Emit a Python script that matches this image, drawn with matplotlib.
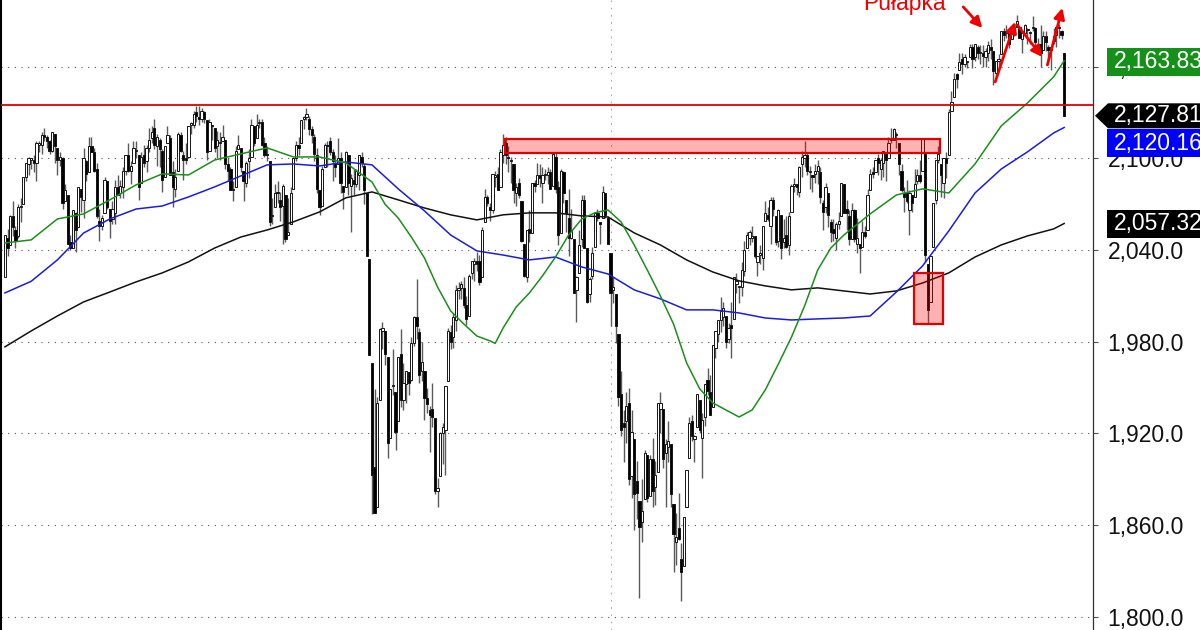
import matplotlib
matplotlib.use("Agg")
import matplotlib.pyplot as plt
from matplotlib.patches import Rectangle, Polygon
from matplotlib.transforms import IdentityTransform

plt.rcParams['font.family'] = ['Liberation Sans', 'DejaVu Sans']

# daily bars, 3 Feb 2015 .. 9 Sep 2016 (one row per month)
OPEN = [
    2022, 2048, 2043, 2062, 2053, 2049, 2068, 2070, 2088, 2096, 2099, 2099, 2097, 2109, 2109, 2115, 2114, 2111,
    2105, 2116, 2107, 2099, 2100, 2072, 2076, 2045, 2041, 2064, 2055, 2080, 2073, 2098, 2091, 2108, 2104, 2093, 2059, 2056, 2064, 2085,
    2067, 2060, 2064, 2081, 2077, 2081, 2092, 2102, 2092, 2097, 2105, 2102, 2084, 2102, 2098, 2107, 2113, 2120, 2108, 2112, 2105,
    2088, 2110, 2113, 2091, 2080, 2092, 2115, 2102, 2100, 2101, 2122, 2122, 2130, 2127, 2126, 2130, 2125, 2105, 2122, 2120,
    2108, 2110, 2111, 2112, 2096, 2093, 2079, 2081, 2106, 2107, 2092, 2084, 2098, 2101, 2121, 2113, 2123, 2124, 2110, 2103, 2098, 2062,
    2068, 2078, 2073, 2069, 2076, 2050, 2057, 2080, 2100, 2109, 2110, 2126, 2127, 2126, 2119, 2114, 2102, 2079, 2069, 2094, 2108, 2111,
    2104, 2097, 2096, 2100, 2082, 2081, 2102, 2082, 2086, 2083, 2089, 2101, 2095, 2077, 2034, 1966, 1898, 1872, 1942, 1987, 1987,
    1970, 1917, 1951, 1947, 1928, 1972, 1942, 1952, 1960, 1955, 1979, 1996, 1986, 1961, 1961, 1943, 1935, 1936, 1930, 1882, 1892,
    1920, 1922, 1954, 1986, 1983, 1994, 2014, 2015, 2015, 2004, 1997, 2025, 2031, 2033, 2033, 2022, 2058, 2075, 2068, 2066, 2088, 2090,
    2081, 2102, 2110, 2101, 2098, 2096, 2077, 2084, 2072, 2044, 2022, 2054, 2051, 2084, 2083, 2089, 2084, 2089, 2089, 2091,
    2082, 2101, 2081, 2051, 2091, 2073, 2061, 2048, 2047, 2014, 2025, 2047, 2073, 2041, 2011, 2023, 2042, 2064, 2058, 2061, 2077, 2061,
    2038, 2014, 2011, 1985, 1946, 1927, 1928, 1940, 1892, 1916, 1889, 1876, 1862, 1877, 1906, 1879, 1903, 1885, 1895,
    1936, 1936, 1907, 1911, 1913, 1874, 1849, 1858, 1838, 1833, 1872, 1904, 1928, 1916, 1924, 1942, 1917, 1931, 1955, 1947,
    1937, 1976, 1985, 1994, 1996, 1997, 1982, 1991, 1995, 2018, 2016, 2016, 2026, 2041, 2048, 2048, 2049, 2032, 2037, 2035, 2059, 2063,
    2056, 2073, 2062, 2046, 2063, 2045, 2050, 2043, 2065, 2082, 2083, 2078, 2096, 2100, 2102, 2091, 2089, 2090, 2092, 2091, 2071,
    2068, 2077, 2058, 2054, 2048, 2057, 2062, 2083, 2067, 2062, 2047, 2066, 2044, 2044, 2042, 2052, 2053, 2079, 2091, 2091, 2100,
    2093, 2097, 2103, 2100, 2112, 2112, 2115, 2110, 2092, 2077, 2077, 2066, 2076, 2075, 2085, 2089, 2092, 2103, 2031, 2006, 2042, 2073,
    2099, 2096, 2084, 2100, 2102, 2131, 2140, 2155, 2158, 2165, 2162, 2163, 2166, 2173, 2166, 2173, 2169, 2169, 2166, 2169,
    2173, 2170, 2156, 2164, 2168, 2183, 2182, 2183, 2178, 2184, 2186, 2186, 2178, 2182, 2184, 2182, 2185, 2185, 2174, 2175, 2171, 2180, 2173,
    2171, 2177, 2181, 2185, 2183, 2169,
]
HIGH = [
    2050, 2054, 2063, 2072, 2056, 2070, 2074, 2088, 2097, 2101, 2100, 2102, 2111, 2111, 2117, 2120, 2115, 2112,
    2117, 2116, 2107, 2104, 2101, 2083, 2076, 2050, 2066, 2065, 2081, 2080, 2107, 2099, 2114, 2114, 2107, 2097, 2067, 2063, 2088, 2085,
    2067, 2072, 2086, 2089, 2086, 2094, 2102, 2110, 2098, 2111, 2111, 2102, 2104, 2109, 2109, 2120, 2121, 2126, 2116, 2113, 2106,
    2108, 2121, 2115, 2098, 2093, 2117, 2117, 2105, 2110, 2121, 2124, 2131, 2134, 2134, 2133, 2131, 2125, 2126, 2122, 2120,
    2118, 2117, 2122, 2112, 2100, 2094, 2085, 2108, 2115, 2107, 2092, 2098, 2106, 2126, 2121, 2129, 2126, 2126, 2114, 2108, 2098, 2074,
    2083, 2085, 2078, 2083, 2076, 2074, 2081, 2100, 2111, 2114, 2124, 2128, 2133, 2128, 2121, 2116, 2107, 2079, 2095, 2110, 2111, 2114,
    2106, 2102, 2113, 2104, 2082, 2105, 2102, 2090, 2093, 2093, 2102, 2104, 2096, 2077, 2034, 1966, 1949, 1944, 1989, 1993, 1987,
    1970, 1949, 1975, 1947, 1970, 1988, 1966, 1961, 1960, 1983, 1997, 2021, 1989, 1980, 1961, 1950, 1938, 1953, 1930, 1891, 1921,
    1927, 1951, 1989, 1991, 1999, 2017, 2019, 2020, 2022, 2010, 2024, 2033, 2035, 2039, 2037, 2055, 2080, 2076, 2071, 2090, 2092, 2094,
    2106, 2116, 2114, 2108, 2101, 2096, 2084, 2087, 2072, 2044, 2053, 2066, 2084, 2086, 2097, 2096, 2094, 2093, 2094, 2093,
    2103, 2104, 2085, 2093, 2092, 2073, 2080, 2067, 2047, 2023, 2053, 2076, 2076, 2041, 2022, 2042, 2064, 2067, 2058, 2082, 2077, 2062,
    2038, 2022, 2011, 1985, 1961, 1935, 1947, 1950, 1935, 1916, 1902, 1876, 1890, 1909, 1906, 1906, 1917, 1902, 1940,
    1947, 1936, 1916, 1928, 1913, 1874, 1868, 1881, 1848, 1865, 1896, 1931, 1932, 1919, 1946, 1942, 1933, 1952, 1963, 1958,
    1978, 1987, 1994, 2009, 2006, 1997, 1992, 2006, 2022, 2025, 2016, 2032, 2046, 2052, 2053, 2056, 2049, 2036, 2043, 2056, 2072, 2068,
    2075, 2075, 2062, 2067, 2063, 2060, 2062, 2065, 2083, 2087, 2083, 2095, 2105, 2111, 2104, 2095, 2089, 2096, 2099, 2094, 2073,
    2084, 2077, 2060, 2060, 2058, 2065, 2084, 2083, 2073, 2066, 2071, 2067, 2061, 2044, 2059, 2056, 2080, 2093, 2094, 2099, 2103,
    2100, 2105, 2104, 2114, 2120, 2120, 2117, 2110, 2096, 2081, 2086, 2079, 2076, 2093, 2093, 2099, 2113, 2103, 2031, 2036, 2071, 2099,
    2108, 2096, 2100, 2104, 2132, 2144, 2156, 2156, 2169, 2169, 2168, 2164, 2175, 2175, 2175, 2174, 2174, 2174, 2172, 2177,
    2178, 2170, 2164, 2168, 2183, 2185, 2187, 2183, 2186, 2186, 2194, 2186, 2183, 2188, 2185, 2183, 2193, 2186, 2179, 2187, 2183, 2183, 2174,
    2173, 2185, 2186, 2188, 2184, 2169,
]
LOW = [
    2022, 2036, 2043, 2049, 2041, 2048, 2058, 2070, 2085, 2089, 2093, 2091, 2085, 2104, 2103, 2111, 2107, 2103,
    2104, 2097, 2089, 2095, 2067, 2072, 2044, 2040, 2041, 2039, 2055, 2065, 2061, 2085, 2091, 2104, 2091, 2061, 2046, 2053, 2064, 2067,
    2048, 2057, 2057, 2076, 2074, 2074, 2089, 2091, 2083, 2097, 2100, 2073, 2084, 2094, 2091, 2104, 2110, 2106, 2095, 2094, 2078,
    2088, 2110, 2089, 2068, 2075, 2092, 2104, 2086, 2096, 2101, 2116, 2120, 2124, 2122, 2124, 2123, 2099, 2105, 2112, 2104,
    2100, 2099, 2111, 2093, 2085, 2079, 2072, 2081, 2106, 2091, 2072, 2081, 2087, 2101, 2108, 2113, 2120, 2108, 2101, 2098, 2056, 2057,
    2068, 2071, 2059, 2044, 2045, 2050, 2057, 2080, 2098, 2102, 2110, 2119, 2125, 2115, 2110, 2098, 2077, 2063, 2069, 2094, 2094, 2102,
    2085, 2088, 2096, 2077, 2067, 2081, 2076, 2052, 2076, 2081, 2079, 2094, 2070, 2036, 1971, 1867, 1868, 1872, 1942, 1975, 1965,
    1904, 1917, 1945, 1909, 1928, 1937, 1935, 1940, 1945, 1954, 1977, 1982, 1953, 1954, 1929, 1933, 1908, 1924, 1880, 1872, 1892,
    1900, 1893, 1954, 1975, 1976, 1987, 2008, 2008, 2002, 1991, 1997, 2021, 2020, 2026, 2017, 2022, 2058, 2069, 2059, 2064, 2081, 2079,
    2081, 2097, 2096, 2091, 2084, 2071, 2069, 2074, 2045, 2022, 2019, 2045, 2051, 2078, 2083, 2081, 2071, 2086, 2083, 2080,
    2082, 2077, 2043, 2051, 2071, 2052, 2036, 2047, 2012, 1993, 2025, 2042, 2041, 2005, 2006, 2021, 2042, 2059, 2044, 2061, 2061, 2044,
    1990, 2005, 1979, 1938, 1918, 1901, 1914, 1886, 1878, 1857, 1864, 1812, 1849, 1877, 1875, 1879, 1872, 1873, 1895,
    1920, 1897, 1872, 1901, 1872, 1829, 1834, 1850, 1810, 1833, 1872, 1904, 1915, 1901, 1924, 1920, 1891, 1925, 1945, 1932,
    1937, 1969, 1980, 1986, 1990, 1976, 1979, 1969, 1995, 2012, 2005, 2010, 2023, 2041, 2043, 2045, 2035, 2023, 2031, 2027, 2059, 2059,
    2044, 2062, 2043, 2042, 2034, 2041, 2041, 2037, 2065, 2078, 2076, 2075, 2088, 2094, 2089, 2080, 2078, 2084, 2083, 2071, 2053,
    2064, 2055, 2045, 2046, 2040, 2054, 2062, 2064, 2053, 2043, 2047, 2045, 2038, 2025, 2042, 2048, 2053, 2079, 2087, 2091, 2089,
    2086, 2088, 2085, 2100, 2110, 2112, 2107, 2089, 2078, 2065, 2071, 2050, 2065, 2075, 2083, 2084, 2092, 2032, 1992, 2006, 2042, 2070,
    2097, 2075, 2074, 2087, 2102, 2131, 2140, 2146, 2158, 2155, 2160, 2159, 2166, 2159, 2164, 2165, 2162, 2160, 2160, 2164,
    2165, 2148, 2154, 2159, 2168, 2177, 2179, 2172, 2178, 2180, 2186, 2179, 2169, 2181, 2175, 2175, 2183, 2171, 2168, 2160, 2171, 2170, 2162,
    2158, 2175, 2173, 2179, 2178, 2127.81,
]
CLOSE = [
    2050, 2041, 2062, 2055, 2046, 2068, 2068, 2088, 2097, 2100, 2100, 2097, 2110, 2110, 2115, 2114, 2111, 2105,
    2117, 2108, 2099, 2101, 2071, 2079, 2044, 2041, 2066, 2053, 2081, 2075, 2100, 2090, 2108, 2104, 2092, 2062, 2056, 2061, 2086, 2068,
    2059, 2067, 2081, 2076, 2082, 2092, 2102, 2092, 2095, 2107, 2105, 2081, 2101, 2097, 2107, 2112, 2117, 2109, 2114, 2106, 2086,
    2108, 2115, 2089, 2081, 2088, 2116, 2105, 2099, 2099, 2121, 2123, 2129, 2128, 2126, 2131, 2126, 2104, 2124, 2121, 2107,
    2112, 2110, 2114, 2096, 2092, 2079, 2080, 2105, 2109, 2094, 2085, 2097, 2100, 2122, 2110, 2122, 2124, 2109, 2102, 2102, 2058, 2063,
    2077, 2077, 2068, 2082, 2047, 2052, 2077, 2100, 2109, 2107, 2125, 2127, 2129, 2119, 2115, 2103, 2080, 2068, 2093, 2109, 2109, 2104,
    2098, 2094, 2100, 2084, 2078, 2104, 2084, 2087, 2083, 2092, 2102, 2097, 2079, 2036, 1971, 1893, 1868, 1940, 1988, 1989, 1972,
    1914, 1949, 1951, 1921, 1970, 1942, 1953, 1961, 1953, 1979, 1996, 1990, 1958, 1967, 1943, 1939, 1932, 1931, 1882, 1884, 1920,
    1924, 1951, 1987, 1980, 1996, 2014, 2015, 2018, 2004, 1995, 2023, 2033, 2033, 2031, 2019, 2053, 2075, 2071, 2066, 2090, 2089, 2079,
    2104, 2109, 2102, 2100, 2099, 2079, 2081, 2076, 2046, 2023, 2053, 2051, 2084, 2082, 2089, 2087, 2089, 2089, 2091, 2080,
    2103, 2080, 2050, 2092, 2077, 2064, 2048, 2053, 2012, 2022, 2043, 2073, 2041, 2006, 2021, 2038, 2064, 2061, 2057, 2078, 2063, 2044,
    2012, 2016, 1990, 1944, 1922, 1924, 1938, 1890, 1921, 1880, 1881, 1859, 1869, 1907, 1878, 1903, 1882, 1893, 1940,
    1940, 1903, 1913, 1915, 1880, 1854, 1852, 1851, 1829, 1865, 1896, 1927, 1918, 1918, 1946, 1922, 1929, 1952, 1948, 1932,
    1978, 1987, 1994, 2000, 2002, 1980, 1989, 1989, 2022, 2020, 2016, 2027, 2040, 2050, 2052, 2049, 2036, 2036, 2037, 2056, 2064, 2060,
    2073, 2067, 2045, 2066, 2041, 2048, 2042, 2062, 2082, 2083, 2081, 2094, 2101, 2102, 2092, 2092, 2088, 2092, 2095, 2075, 2065,
    2081, 2063, 2052, 2051, 2057, 2059, 2084, 2064, 2064, 2047, 2066, 2047, 2048, 2041, 2052, 2049, 2076, 2090, 2090, 2099, 2097,
    2099, 2105, 2099, 2110, 2112, 2119, 2116, 2096, 2079, 2075, 2072, 2077, 2071, 2083, 2089, 2085, 2113, 2037, 2001, 2036, 2071, 2099,
    2103, 2089, 2100, 2097, 2130, 2137, 2152, 2152, 2163, 2162, 2166, 2164, 2173, 2165, 2175, 2169, 2169, 2167, 2170, 2174,
    2171, 2157, 2164, 2164, 2183, 2181, 2182, 2175, 2186, 2184, 2190, 2179, 2182, 2187, 2184, 2182, 2186, 2176, 2172, 2169, 2180, 2176, 2171,
    2171, 2180, 2186, 2186, 2181, 2127.81,
]

# moving averages (bar index -> value)
MA_IDX = [0, 10, 20, 30, 40, 50, 60, 70, 80, 90, 100, 110, 120, 130, 140, 150, 160, 170, 180, 190, 200,
          210, 220, 230, 240, 250, 260, 270, 280, 290, 300, 310, 320, 330, 340, 350, 360, 370, 380, 390, 400, 404]
MA_BLUE = [2011.9, 2019.5, 2033.5, 2051.1, 2060.3, 2066.8, 2068.8, 2074.7, 2081.3, 2088.5, 2095.7,
           2096.3, 2095.0, 2097.6, 2095.7, 2080.0, 2065.6, 2049.8, 2039.4, 2036.7, 2033.5,
           2035.4, 2028.9, 2024.3, 2013.9, 2008.0, 2000.8, 2000.8, 1998.8, 1995.5, 1994.2,
           1994.9, 1995.5, 1996.8, 2012.5, 2029.6, 2052.5, 2077.3, 2093.0, 2104.2, 2116.6, 2120.16]
MA_BLACK = [1976.6, 1987.0, 1996.8, 2006.0, 2012.5, 2019.1, 2025.0, 2032.2, 2041.3, 2048.5, 2053.1,
            2058.4, 2064.9, 2074.1, 2078.0, 2072.8, 2067.5, 2063.0, 2059.7, 2063.0, 2064.3,
            2064.3, 2062.3, 2061.6, 2051.2, 2043.3, 2033.5, 2025.6, 2019.8, 2016.5, 2013.9,
            2015.2, 2013.2, 2011.2, 2013.2, 2018.4, 2025.0, 2035.4, 2043.3, 2049.2, 2053.8, 2057.32]
GREEN_IDX = [0, 10, 20, 30, 40, 50, 60, 70, 80, 90, 100, 110, 120, 130, 140, 145, 150, 155, 160, 165,
             170, 175, 180, 185, 187, 190, 195, 200, 205, 210, 215, 220, 225, 230, 235, 240, 245, 250,
             255, 260, 265, 270, 275, 280, 285, 290, 295, 300, 305, 310, 315, 320, 330, 340, 350, 360,
             370, 380, 390, 400, 404]
MA_GREEN = [2044.6, 2046.6, 2060.3, 2063.6, 2072.8, 2082.6, 2089.8, 2089.1, 2098.9, 2102.9, 2106.8,
            2100.9, 2100.9, 2097.0, 2084.5, 2069.9, 2060.9, 2048.5, 2034.8, 2015.8,
            2000.1, 1991.6, 1983.7, 1980.5, 1978.9, 1988.9, 2002.7, 2011.8, 2023.0, 2035.4, 2049.8, 2060.3,
            2064.3, 2066.2, 2058.4, 2043.3, 2026.9, 2009.9,
            1991.6, 1966.1, 1949.1, 1939.9, 1935.3, 1930.7, 1935.3, 1948.4, 1965.4, 1983.0, 2003.4,
            2026.9, 2041.3, 2049.8, 2063.6, 2076.0, 2080.0, 2077.3,
            2096.3, 2121.2, 2136.2, 2153.3, 2163.83]

Y_TICKS = [1800, 1860, 1920, 1980, 2040, 2100, 2160]
OLD_HIGH = 2134.72
FIRST_BAR_2016 = 231

fig = plt.figure(figsize=(12, 6.3), dpi=100)
ax = fig.add_axes([1 / 1200, 0, 1092 / 1200, 1])
n = len(CLOSE)
ax.set_xlim(-1.5, n + 10)
ax.set_ylim(1791.3, 2203.6)

# grid
for t in Y_TICKS:
    ax.axhline(t, color='#505050', lw=0.8, ls=(0, (1, 5)), zorder=1)
ax.axvline(FIRST_BAR_2016, color='#a8a8a8', lw=0.8, ls=(0, (1.5, 5)), zorder=1)

# candles
idx = list(range(n))
ax.vlines(idx, LOW[:n], HIGH[:n], color='#5a5a5a', lw=1.0, zorder=2)
bottoms = [min(o, c) for o, c in zip(OPEN, CLOSE)]
heights = [max(abs(c - o), 0.7) for o, c in zip(OPEN, CLOSE)]
faces = ['white' if c >= o else 'black' for o, c in zip(OPEN, CLOSE)]
ax.bar(idx, heights, bottom=bottoms, width=0.85, color=faces,
       edgecolor='#151515', linewidth=0.7, zorder=3)

# moving averages
ax.plot(MA_IDX, MA_BLACK, color='#111111', lw=1.1, zorder=4)
ax.plot(MA_IDX, MA_BLUE, color='#1c1ce0', lw=1.1, zorder=4)
ax.plot(GREEN_IDX, MA_GREEN, color='#1a8f1a', lw=1.1, zorder=4)

# levels and zones
ax.axhline(OLD_HIGH, color='#e00000', lw=1.3, zorder=5)
ax.add_patch(Rectangle((190.8, 2103.3), 356.7 - 190.8, 2112.5 - 2103.3,
                       facecolor=(1, 0, 0, 0.3), edgecolor='#e00000', lw=1.6, zorder=5))
ax.add_patch(Rectangle((346.6, 1991.6), 357.8 - 346.6, 2025.2 - 1991.6,
                       facecolor=(1, 0, 0, 0.3), edgecolor='#e00000', lw=1.6, zorder=5))

# "trap" annotation
ax.text(327.4, 2197.1, 'Pułapka', color='#f00000', fontsize=16.5, va='baseline', ha='left', zorder=6)
arrows = [((365.5, 2199.1), (372.8, 2185.3)),
          ((377.7, 2150.0), (385.3, 2189.3)),
          ((386.1, 2187.3), (395.7, 2166.3)),
          ((397.6, 2161.1), (403.3, 2198.4))]
for start, end in arrows:
    ax.annotate('', xy=end, xytext=start,
                arrowprops=dict(arrowstyle='-|>', color='#f00000', lw=2,
                                mutation_scale=16, shrinkA=0, shrinkB=0), zorder=6)

# axis on the right
ax.yaxis.tick_right()
ax.set_yticks(Y_TICKS)
ax.set_yticklabels([f'{t:,.1f}' for t in Y_TICKS])
ax.tick_params(axis='y', length=3.6, width=0.8, color='#555555', pad=7,
               labelsize=16.5, labelcolor='#111111')
ax.set_xticks([])
ax.spines['top'].set_visible(False)
ax.spines['bottom'].set_visible(False)
ax.spines['left'].set_linewidth(1.5)
ax.spines['left'].set_color('black')
ax.spines['right'].set_linewidth(0.9)
ax.spines['right'].set_color('#333333')

# last-value tags
px = IdentityTransform()


def tag(value, color, shift=0, arrow=False):
    y = ax.transData.transform((0, value))[1] - shift
    if arrow:
        pts = [(1095, y), (1108, y + 12.5), (1210, y + 12.5), (1210, y - 12.5), (1108, y - 12.5)]
    else:
        pts = [(1107, y + 14), (1210, y + 14), (1210, y - 14), (1107, y - 14)]
    fig.add_artist(Polygon(pts, closed=True, facecolor=color, edgecolor='none', transform=px))
    fig.text(1114, y, f'{value:,.2f}', color='white', fontsize=16.5, va='center', ha='left', transform=px)


tag(MA_GREEN[-1], '#15911a', shift=1)
tag(CLOSE[-1], 'black', arrow=True)
tag(MA_BLUE[-1], '#0000ff', shift=16)
tag(MA_BLACK[-1], 'black')

fig.savefig('out.png', dpi=100)
